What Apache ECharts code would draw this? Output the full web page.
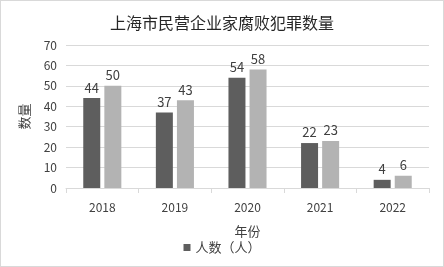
<!DOCTYPE html>
<html>
<head>
<meta charset="utf-8">
<script src="https://cdn.jsdelivr.net/npm/echarts@6/dist/echarts.min.js"></script>
<style>
  html, body { margin: 0; padding: 0; background: #fff; }
  #chart { width: 444px; height: 267px; box-sizing: border-box; border: 1px solid #d9d9d9; }
</style>
</head>
<body>
<div id="chart"></div>
<script>
// 数据
const years = ['2018', '2019', '2020', '2021', '2022']
const seriesA = [44, 37, 54, 22, 4]
const seriesB = [50, 43, 58, 23, 6]
const yTicks = [0, 10, 20, 30, 40, 50, 60, 70]

const font = '"Noto Sans CJK SC", "Noto Sans", sans-serif'
const chart = echarts.init(document.getElementById('chart'))

chart.setOption({
  animation: false,
  textStyle: { fontFamily: font },
  title: {
    text: '上海市民营企业家腐败犯罪数量',
    left: 'center',
    top: 9,
    textStyle: { fontSize: 16, fontWeight: 'normal', color: '#262626', fontFamily: font }
  },
  legend: {
    data: [{ name: '人数（人）', icon: 'rect' }],
    bottom: 7,
    left: 'center',
    itemWidth: 7,
    itemHeight: 7,
    itemGap: 4,
    textStyle: { fontSize: 13, color: '#404040' }
  },
  grid: { left: 65, right: 14, top: 44, bottom: 78 },
  xAxis: {
    type: 'category',
    data: years,
    name: '年份',
    nameLocation: 'middle',
    nameGap: 37,
    nameTextStyle: { fontSize: 13, color: '#404040' },
    axisLine: { lineStyle: { color: '#d9d9d9' } },
    axisTick: { show: true, length: 5, lineStyle: { color: '#d9d9d9' } },
    axisLabel: { fontSize: 12, color: '#404040', margin: 13 }
  },
  yAxis: {
    type: 'value',
    min: yTicks[0],
    max: yTicks[yTicks.length - 1],
    interval: 10,
    name: '数量',
    nameLocation: 'middle',
    nameRotate: 90,
    nameGap: 35,
    nameTextStyle: { fontSize: 13, color: '#404040' },
    axisLine: { show: false },
    axisTick: { show: false },
    axisLabel: { fontSize: 12, color: '#404040', margin: 9 },
    splitLine: { lineStyle: { color: '#d9d9d9' } }
  },
  series: [
    {
      name: '人数（人）',
      type: 'bar',
      data: seriesA,
      barWidth: 17,
      barGap: '24%',
      itemStyle: { color: '#5e5e5e' },
      label: { show: true, position: 'top', fontSize: 13, color: '#404040', distance: 4 }
    },
    {
      name: '人数2',
      type: 'bar',
      data: seriesB,
      barWidth: 17,
      barGap: '24%',
      itemStyle: { color: '#b3b3b3' },
      label: { show: true, position: 'top', fontSize: 13, color: '#404040', distance: 4 }
    }
  ]
})
</script>
</body>
</html>
